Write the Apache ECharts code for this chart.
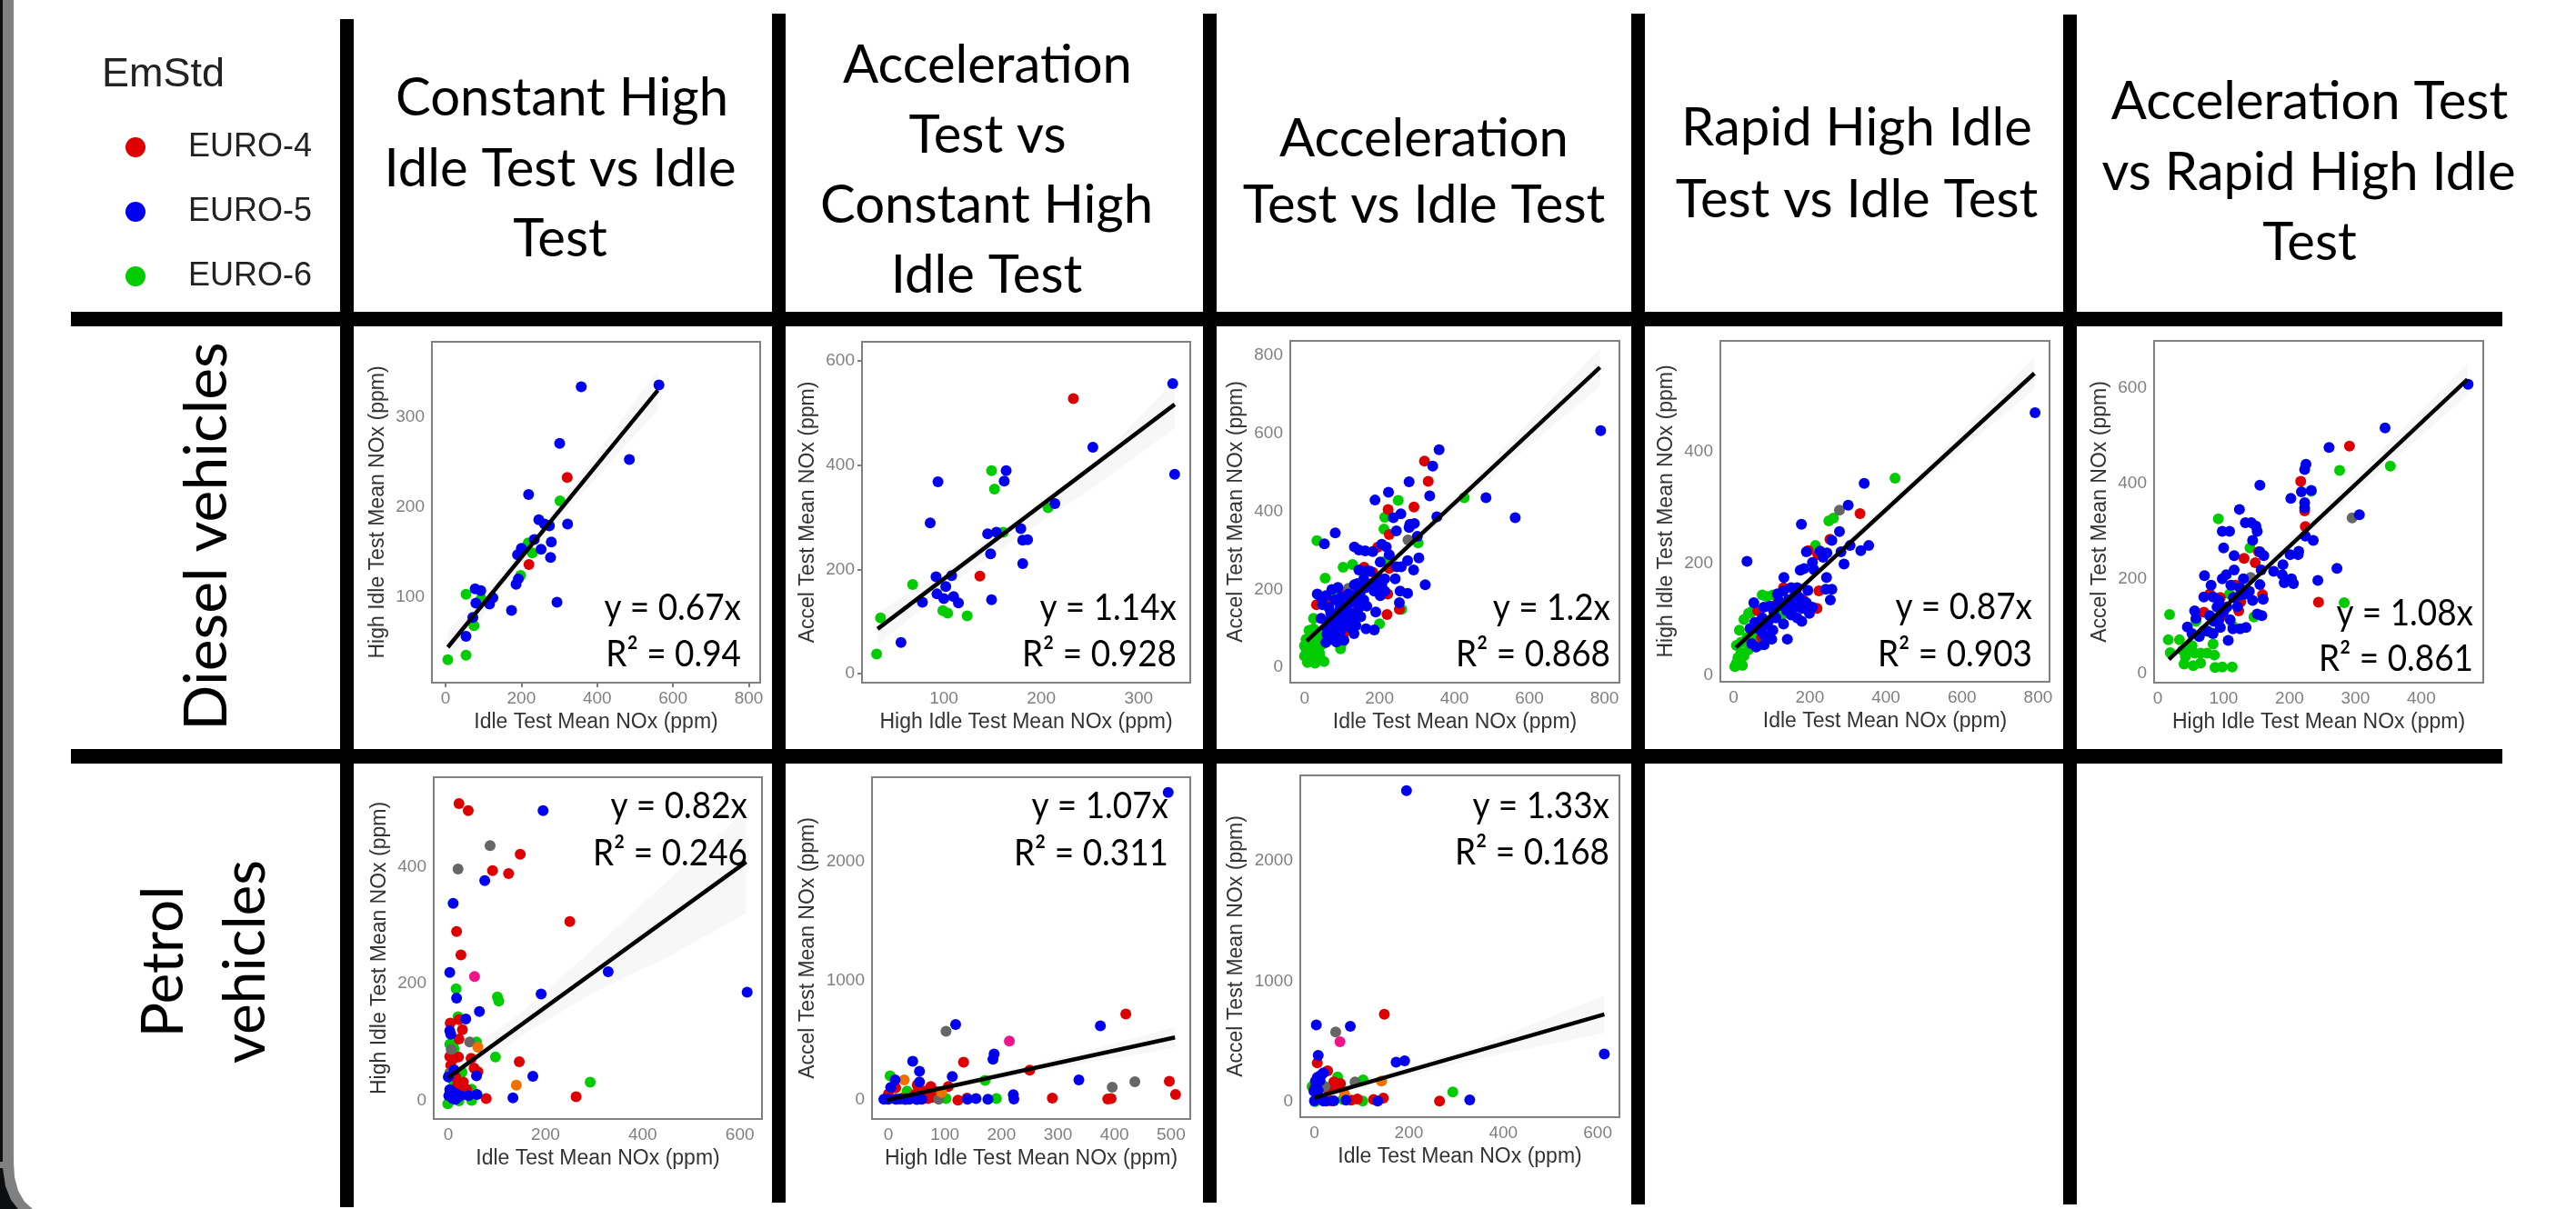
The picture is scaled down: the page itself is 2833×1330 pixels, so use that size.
<!DOCTYPE html>
<html><head><meta charset="utf-8">
<style>html,body{margin:0;padding:0;background:#fff}#c{width:2833px;height:1330px}</style>
<script src="https://cdn.jsdelivr.net/npm/echarts@6/dist/echarts.min.js"></script>
</head><body><div id="c"></div>
<script>
// ---- Diesel: Constant High Idle vs Idle
const d1Blue=[[358,334],[563,336],[301,271],[485,253],[219,214],[246,186],[261,181],[274,179],[322,181],[234,164],[279,161],[252,153],[277,144],[200,154],[190,147],[192,120],[186,114],[174,85],[294,94],[125,99],[116,92],[78,109],[93,107],[80,93],[72,77],[54,56]];
const d1Green=[[302,207],[218,160],[229,149],[198,124],[54,103],[94,98],[75,68],[54,35],[6,30]];
const d1Red=[[321,233],[220,136]];
const d1Line=[[6,44],[560,330]];
const d1Band=[[6,26,62],[150,108,128],[250,162,176],[350,210,232],[560,308,352]];
// ---- Diesel: Acceleration vs Constant High Idle
const d2Blue=[[335,556],[337,382],[253,434],[164,389],[162,369],[94,368],[86,289],[214,326],[179,278],[181,256],[186,257],[181,211],[145,268],[154,271],[148,230],[149,142],[92,186],[108,188],[102,167],[93,153],[100,144],[110,148],[115,136],[78,137],[56,60]];
const d2Green=[[149,389],[152,354],[161,271],[207,318],[68,171],[99,121],[104,116],[124,111],[35,107],[31,38]];
const d2Red=[[233,527],[137,187]];
const d2Line=[[32,86],[337,516]];
const d2Band=[[32,55,117],[120,190,222],[180,265,300],[260,366,412],[337,470,562]];
// ---- Diesel: Acceleration vs Idle
const d3Blue=[[790,607],[562,384],[484,435],[359,558],[342,516],[279,476],[224,449],[188,429],[334,440],[353,386],[257,394],[237,384],[245,350],[281,367],[293,369],[279,359],[301,336],[82,345],[53,317],[305,281],[322,212],[133,309],[145,301],[162,299],[182,297],[206,316],[218,309],[226,289],[202,270],[145,250],[166,247],[246,258],[258,258],[275,274],[291,250],[242,227],[214,227],[255,196],[275,190],[253,166],[190,142],[34,188],[44,180],[57,184],[73,200],[89,205],[48,161],[65,153],[81,173],[97,180],[117,188],[133,212],[141,215],[158,227],[174,247],[190,200],[206,212],[186,196],[202,184],[214,196],[141,188],[158,173],[166,157],[145,153],[129,138],[113,149],[93,145],[77,130],[61,118],[81,107],[101,122],[117,126],[133,126],[137,107],[132,87],[97,95],[77,87],[69,72],[57,64],[85,79],[164,99],[186,96],[44,126],[60,100],[75,115],[90,130],[105,140],[120,165],[135,175],[150,195],[165,205],[180,215],[195,230],[110,110],[125,100],[150,130],[95,160],[70,140],[105,70],[85,65],[60,85]];
const d3Green=[[33,325],[250,428],[214,385],[212,355],[303,319],[426,435],[103,257],[128,264],[55,229],[259,149],[200,112],[24,126],[99,61],[96,48],[77,192],[218,274],[4,72],[12,95],[24,99],[40,91],[48,83],[4,48],[20,64],[36,68],[48,60],[0,29],[12,21],[24,37],[40,37],[44,21],[8,13],[28,11],[52,15],[36,48],[16,40],[0,56],[28,83],[20,25]];
const d3Red=[[320,529],[330,477],[292,411],[223,405],[226,341],[195,308],[159,257],[182,244],[226,254],[222,188],[220,136],[253,149],[133,166],[107,188],[32,161],[61,169],[105,87]];
const d3Grey=[[276,327],[117,203]];
const d3Line=[[6,68],[788,769]];
const d3Band=[[6,50,86],[150,188,206],[300,320,345],[500,489,531],[788,720,818]];
// ---- Diesel: Rapid High Idle vs Idle
const d4Blue=[[792,469],[343,343],[301,304],[178,270],[278,257],[258,241],[35,204],[355,232],[334,223],[306,232],[282,221],[191,221],[227,222],[245,219],[235,211],[207,202],[290,199],[175,188],[185,191],[211,189],[244,175],[132,175],[258,154],[242,154],[254,135],[195,152],[141,65],[53,130],[151,157],[167,157],[131,151],[115,146],[79,122],[95,124],[119,132],[143,135],[159,141],[175,138],[191,130],[207,122],[199,111],[179,97],[167,103],[151,108],[131,92],[111,103],[91,97],[75,103],[55,95],[43,84],[71,81],[91,70],[103,81],[79,73],[47,57],[59,51],[139,116],[163,122],[85,90],[105,115],[125,125],[150,125],[165,145],[180,120],[60,85],[70,95],[100,65],[80,55]];
const d4Green=[[424,352],[250,276],[262,281],[215,232],[75,144],[103,144],[127,108],[39,111],[27,100],[15,81],[7,54],[19,59],[35,68],[55,70],[67,54],[3,16],[23,18],[11,32],[27,35],[39,46],[19,41],[7,22],[47,114],[87,141]];
const d4Red=[[332,289],[253,243],[196,223],[221,216],[131,157],[224,151],[219,120],[111,126],[63,116],[73,68],[183,135]];
const d4Grey=[[278,295],[116,142]];
const d4Line=[[6,50],[790,539]];
const d4Band=[[6,42,58],[150,135,146],[300,226,242],[500,348,368],[790,510,568]];
// ---- Diesel: Acceleration vs Rapid High Idle
const d5Blue=[[471,608],[345,516],[260,475],[225,440],[223,429],[155,396],[218,382],[233,385],[202,368],[223,359],[223,348],[124,345],[306,334],[133,317],[142,317],[149,310],[151,299],[98,299],[109,299],[144,280],[224,289],[236,280],[100,264],[116,248],[155,256],[161,248],[214,257],[201,250],[213,250],[272,221],[190,229],[176,215],[189,208],[243,196],[192,191],[206,189],[203,199],[71,206],[116,218],[104,208],[98,199],[130,199],[157,218],[155,187],[81,186],[70,161],[84,161],[93,154],[111,186],[125,180],[139,173],[144,154],[160,156],[121,141],[151,125],[158,122],[56,132],[58,116],[45,98],[79,122],[93,113],[110,113],[114,94],[125,94],[134,97],[107,70],[95,97],[84,84],[63,78],[75,90],[52,84],[134,167],[70,90],[85,110],[100,130],[115,160],[125,165],[90,140],[105,140]];
const d5Green=[[353,436],[276,427],[92,325],[140,264],[283,149],[18,124],[16,71],[33,71],[19,44],[38,49],[52,59],[56,43],[42,36],[65,43],[75,43],[84,62],[86,39],[40,20],[54,17],[65,22],[87,13],[98,14],[113,14],[146,119],[58,110],[109,167],[114,100],[79,87],[233,383],[47,52]];
const d5Red=[[291,478],[217,404],[223,342],[224,309],[131,242],[148,233],[153,256],[159,166],[244,150],[126,151],[123,132],[70,129],[79,167],[95,160],[98,122],[118,186]];
const d5Grey=[[295,327],[141,202]];
const d5Line=[[17,30],[470,618]];
const d5Band=[[17,18,42],[120,158,176],[250,318,346],[470,585,651]];
// ---- Petrol: Constant High Idle vs Idle
const p1Blue=[[195,496],[75,376],[10,337],[3,219],[329,220],[615,185],[191,182],[17,175],[64,152],[36,139],[3,119],[5,113],[174,41],[58,42],[0,40],[133,4],[59,10],[42,8],[3,18],[19,5],[9,3],[1,8],[12,52],[8,14],[14,12],[25,8],[15,2]];
const p1Green=[[16,191],[101,177],[104,170],[20,143],[3,96],[12,88],[58,100],[97,74],[292,31],[28,48],[11,32],[48,19],[48,0],[22,-1],[3,-1],[-1,-6],[25,45],[10,95],[35,10]];
const p1Red=[[22,508],[41,496],[148,421],[91,393],[124,388],[250,306],[17,289],[26,249],[4,132],[22,138],[29,121],[22,105],[3,75],[21,74],[9,70],[47,72],[146,66],[53,55],[61,49],[12,52],[31,31],[19,26],[78,3],[263,6],[5,60],[15,40],[28,22],[38,18]];
const p1Grey=[[86,436],[20,396],[44,100],[6,87],[3,47]];
const p1Orange=[[61,91],[140,26]];
const p1Pink=[[54,212]];
const p1Line=[[0,39],[613,408]];
const p1Band=[[0,15,63],[150,110,150],[300,185,260],[450,245,375],[613,320,496]];
// ---- Petrol: Acceleration vs Constant High Idle
const p2Blue=[[495,2579],[119,635],[375,623],[43,325],[187,386],[185,343],[55,241],[113,198],[55,152],[12,170],[4,107],[337,170],[221,46],[222,10],[176,8],[155,13],[140,8],[0,8],[13,8],[59,8],[37,8],[-8,8],[20,10],[30,5],[50,5]];
const p2Green=[[3,203],[171,165],[191,13],[33,76],[37,13],[102,13],[-3,13],[25,20],[15,8]];
const p2Red=[[420,722],[133,318],[250,252],[497,158],[508,48],[290,18],[388,10],[394,13],[123,0],[139,18],[75,114],[106,114],[51,127],[64,76],[78,25],[13,102],[24,13],[0,51],[61,13],[48,51],[30,13],[70,60],[85,70],[70,13],[42,20]];
const p2Grey=[[102,577],[436,155],[396,109],[51,8],[89,8]];
const p2Orange=[[28,170],[94,64]];
const p2Pink=[[214,495]];
const p2Line=[[-3,0],[507,526]];
const p2Band=[[-3,-20,20],[100,90,130],[300,270,350],[507,440,612]];
// ---- Petrol: Acceleration vs Idle
const p3Blue=[[195,2579],[4,637],[76,626],[8,385],[614,395],[173,327],[191,340],[19,239],[6,201],[12,176],[3,138],[-1,88],[6,50],[329,15],[134,5],[41,8],[19,5],[67,13],[0,8],[2,170],[10,210],[15,225],[5,120],[8,90],[25,5]];
const p3Green=[[293,81],[49,206],[103,181],[102,5],[60,18],[1,0],[-5,126]];
const p3Red=[[148,725],[6,322],[28,257],[41,164],[54,138],[48,126],[146,30],[265,5],[125,18],[91,23],[78,13],[-1,101],[35,8],[30,100],[55,150],[45,150]];
const p3Grey=[[45,579],[22,126],[86,164]];
const p3Orange=[[142,171],[64,63]];
const p3Pink=[[54,498]];
const p3Line=[[0,33],[614,725]];
const p3Band=[[0,5,61],[150,170,230],[350,360,470],[614,570,880]];

// ---- tick labels
const ticks0to800=[0,200,400,600,800];
const ticks0to600=[0,200,400,600];
const ticks0to500=[0,100,200,300,400,500];
const ticks0to400=[0,100,200,300,400];
const ticks100to300=[100,200,300];
const ticks0to400by200=[0,200,400];
const ticks0to2000=[0,1000,2000];

// ---- text
const legendTitle='EmStd';
const legendNames=['EURO-4','EURO-5','EURO-6'];
const idleTitle='Idle Test Mean NOx (ppm)';
const highTitle='High Idle Test Mean NOx (ppm)';
const accelTitle='Accel Test Mean NOx (ppm)';

const colors={red:'#de0000',blue:'#0000ee',green:'#00cc00',grey:'#666666',orange:'#f07000',pink:'#f0148c'};

const panels=[
 {g:[475,376,361,375],xr:[-36,830],yr:[4.5,384],xt:ticks0to800,yt:ticks100to300,xn:idleTitle,yn:highTitle,gap:48,red:d1Red,blue:d1Blue,green:d1Green,line:d1Line,band:d1Band,eq:['y = 0.67x','R² = 0.94'],tx:815,ty:[682,733]},
 {g:[948,376,361,375],xr:[16,353],yr:[-17,636],xt:ticks100to300,yt:ticks0to600,xn:highTitle,yn:accelTitle,gap:48,red:d2Red,blue:d2Blue,green:d2Green,line:d2Line,band:d2Band,eq:['y = 1.14x','R² = 0.928'],tx:1294,ty:[682,733]},
 {g:[1419,375,362,376],xr:[-38,840],yr:[-39,837],xt:ticks0to800,yt:ticks0to800,xn:idleTitle,yn:accelTitle,gap:48,red:d3Red,blue:d3Blue,green:d3Green,grey:d3Grey,line:d3Line,band:d3Band,eq:['y = 1.2x','R² = 0.868'],tx:1771,ty:[682,733]},
 {g:[1892,375,362,375],xr:[-35,830],yr:[-11,597],xt:ticks0to800,yt:ticks0to400by200,xn:idleTitle,yn:highTitle,gap:48,red:d4Red,blue:d4Blue,green:d4Green,grey:d4Grey,line:d4Line,band:d4Band,eq:['y = 0.87x','R² = 0.903'],tx:2235,ty:[681,733]},
 {g:[2369,375,362,376],xr:[-5.5,494],yr:[-19,699],xt:ticks0to400,yt:ticks0to600,xn:highTitle,yn:accelTitle,gap:48,red:d5Red,blue:d5Blue,green:d5Green,grey:d5Grey,line:d5Line,band:d5Band,eq:['y = 1.08x','R² = 0.861'],tx:2720,ty:[688,738]},
 {g:[477,855,361,376],xr:[-30,645.5],yr:[-32,553],xt:ticks0to600,yt:ticks0to400by200,xn:idleTitle,yn:highTitle,gap:48,red:p1Red,blue:p1Blue,green:p1Green,grey:p1Grey,orange:p1Orange,pink:p1Pink,line:p1Line,band:p1Band,eq:['y = 0.82x','R² = 0.246'],tx:822,ty:[900,952]},
 {g:[959,855,350,376],xr:[-29,534],yr:[-158,2706],xt:ticks0to500,yt:ticks0to2000,xn:highTitle,yn:accelTitle,gap:59,red:p2Red,blue:p2Blue,green:p2Green,grey:p2Grey,orange:p2Orange,pink:p2Pink,line:p2Line,band:p2Band,eq:['y = 1.07x','R² = 0.311'],tx:1285,ty:[900,952]},
 {g:[1430,853,351,376],xr:[-30,646],yr:[-128,2705],xt:ticks0to600,yt:ticks0to2000,xn:idleTitle,yn:accelTitle,gap:59,red:p3Red,blue:p3Blue,green:p3Green,grey:p3Grey,orange:p3Orange,pink:p3Pink,line:p3Line,band:p3Band,eq:['y = 1.33x','R² = 0.168'],tx:1770,ty:[900,951]}
];

const grid=[],xAxis=[],yAxis=[],series=[];
panels.forEach((p,i)=>{
  grid.push({left:p.g[0],top:p.g[1],width:p.g[2],height:p.g[3],show:true,borderColor:'#808080',borderWidth:2,backgroundColor:'#fff',z:1});
  const common=(ticks,name)=>({type:'value',gridIndex:i,scale:true,name:name,nameLocation:'middle',
    nameTextStyle:{color:'#333',fontFamily:'Liberation Sans',fontSize:23},
    axisLine:{show:false},
    axisTick:{show:true,length:5,lineStyle:{color:'#808080',width:2},customValues:ticks},
    axisLabel:{color:'#808080',fontFamily:'Liberation Sans',fontSize:19,margin:8,customValues:ticks,hideOverlap:false,showMinLabel:true,showMaxLabel:true,formatter:v=>String(v)},
    splitLine:{show:true,lineStyle:{color:'#efeff1',width:2},customValues:ticks},
    minorSplitLine:{show:false}});
  xAxis.push(Object.assign(common(p.xt,p.xn),{min:p.xr[0],max:p.xr[1],nameGap:32}));
  yAxis.push(Object.assign(common(p.yt,p.yn),{min:p.yr[0],max:p.yr[1],nameGap:p.gap,nameRotate:90}));
  const band=p.band;
  series.push({type:'custom',name:'Fit band',xAxisIndex:i,yAxisIndex:i,silent:true,z:2,data:band,clip:true,
    encode:{x:0,y:[1,2]},
    renderItem:(params,api)=>{
      if(params.dataIndex!==0) return null;
      const up=band.map(r=>api.coord([r[0],r[2]]));
      const lo=band.map(r=>api.coord([r[0],r[1]])).reverse();
      return {type:'polygon',shape:{points:up.concat(lo)},style:{fill:'#e8e8e8',opacity:.35}};
    }});
  [['green','EURO-6'],['red','EURO-4'],['grey','Grey'],['orange','Orange'],['pink','Pink'],['blue','EURO-5']].forEach(([k,n])=>{
    if(p[k]) series.push({type:'scatter',name:n,xAxisIndex:i,yAxisIndex:i,data:p[k],symbol:'circle',symbolSize:12,silent:true,z:3,itemStyle:{color:colors[k],opacity:1}});
  });
  series.push({type:'line',name:'Fit',xAxisIndex:i,yAxisIndex:i,data:p.line,showSymbol:false,silent:true,z:4,lineStyle:{color:'#000',width:4.5}});
});

const els=[];
// window edge
els.push({type:'rect',z:-10,shape:{x:0,y:0,width:3,height:1330},style:{fill:'#0c0f12'}});
els.push({type:'rect',z:-10,shape:{x:3,y:0,width:12,height:1330},style:{fill:'#808080'}});
els.push({type:'polygon',z:-9,shape:{points:[[15,1278],[16,1295],[20,1310],[27,1322],[36,1330],[0,1330],[0,1278]]},style:{fill:'#808080'}});
els.push({type:'polygon',z:-8,shape:{points:[[3,1285],[6,1305],[12,1320],[20,1330],[0,1330],[0,1285]]},style:{fill:'#0c0f12'}});
// black table rules
const vRules=[[374,21,1328],[849,15,1323],[1323,15,1323],[1794,15,1325],[2269,16,1325]];
vRules.forEach(r=>els.push({type:'rect',z:10,shape:{x:r[0],y:r[1],width:15,height:r[2]-r[1]},style:{fill:'#000'}}));
[[343,16],[824,16]].forEach(r=>els.push({type:'rect',z:10,shape:{x:78,y:r[0],width:2674,height:r[1]},style:{fill:'#000'}}));
const hFont={fontFamily:'Lato',fontWeight:400,fill:'#000'};
const headers=[['Constant High',618,108],['Idle Test vs Idle',616,186],['Test',616,263],
 ['Acceleration',1086,72],['Test vs',1086,149],['Constant High',1085,226],['Idle Test',1085,303],
 ['Acceleration',1566,153],['Test vs Idle Test',1566,226],
 ['Rapid High Idle',2042,141],['Test vs Idle Test',2042,220],
 ['Acceleration Test',2540,112],['vs Rapid High Idle',2539,190],['Test',2540,267]];
headers.forEach(h=>els.push({type:'text',z:20,x:h[1],y:h[2],style:Object.assign({text:h[0],fontSize:58,align:'center',verticalAlign:'middle'},hFont)}));
// row labels
[['Diesel vehicles',228,590,66],['Petrol',180,1058,64],['vehicles',270,1058,64]].forEach(r=>els.push({type:'text',z:20,x:r[1],y:r[2],rotation:Math.PI/2,style:Object.assign({text:r[0],fontSize:r[3],align:'center',verticalAlign:'middle'},hFont)}));
// annotations
panels.forEach(p=>p.eq.forEach((t,j)=>els.push({type:'text',z:20,x:p.tx,y:p.ty[j]-13,scaleX:0.9,style:{text:t,fontFamily:'Lato',fontSize:41,fill:'#000',align:'right',verticalAlign:'middle'}})));
els.push({type:'text',z:20,x:112,y:83,style:{text:legendTitle,fontFamily:'Liberation Sans',fontSize:45,fill:'#222',align:'left',verticalAlign:'middle'}});

const chart=echarts.init(document.getElementById('c'),null,{renderer:'canvas',width:2833,height:1330});
chart.setOption({animation:false,backgroundColor:'#fff',grid,xAxis,yAxis,series,
  legend:{data:legendNames,orient:'vertical',left:133,top:139,itemWidth:22,itemHeight:22,itemGap:35,selectedMode:false,icon:'circle',
    textStyle:{color:'#222',fontFamily:'Liberation Sans',fontSize:36,padding:[0,0,0,42]}},
  graphic:{elements:els}});
</script></body></html>
